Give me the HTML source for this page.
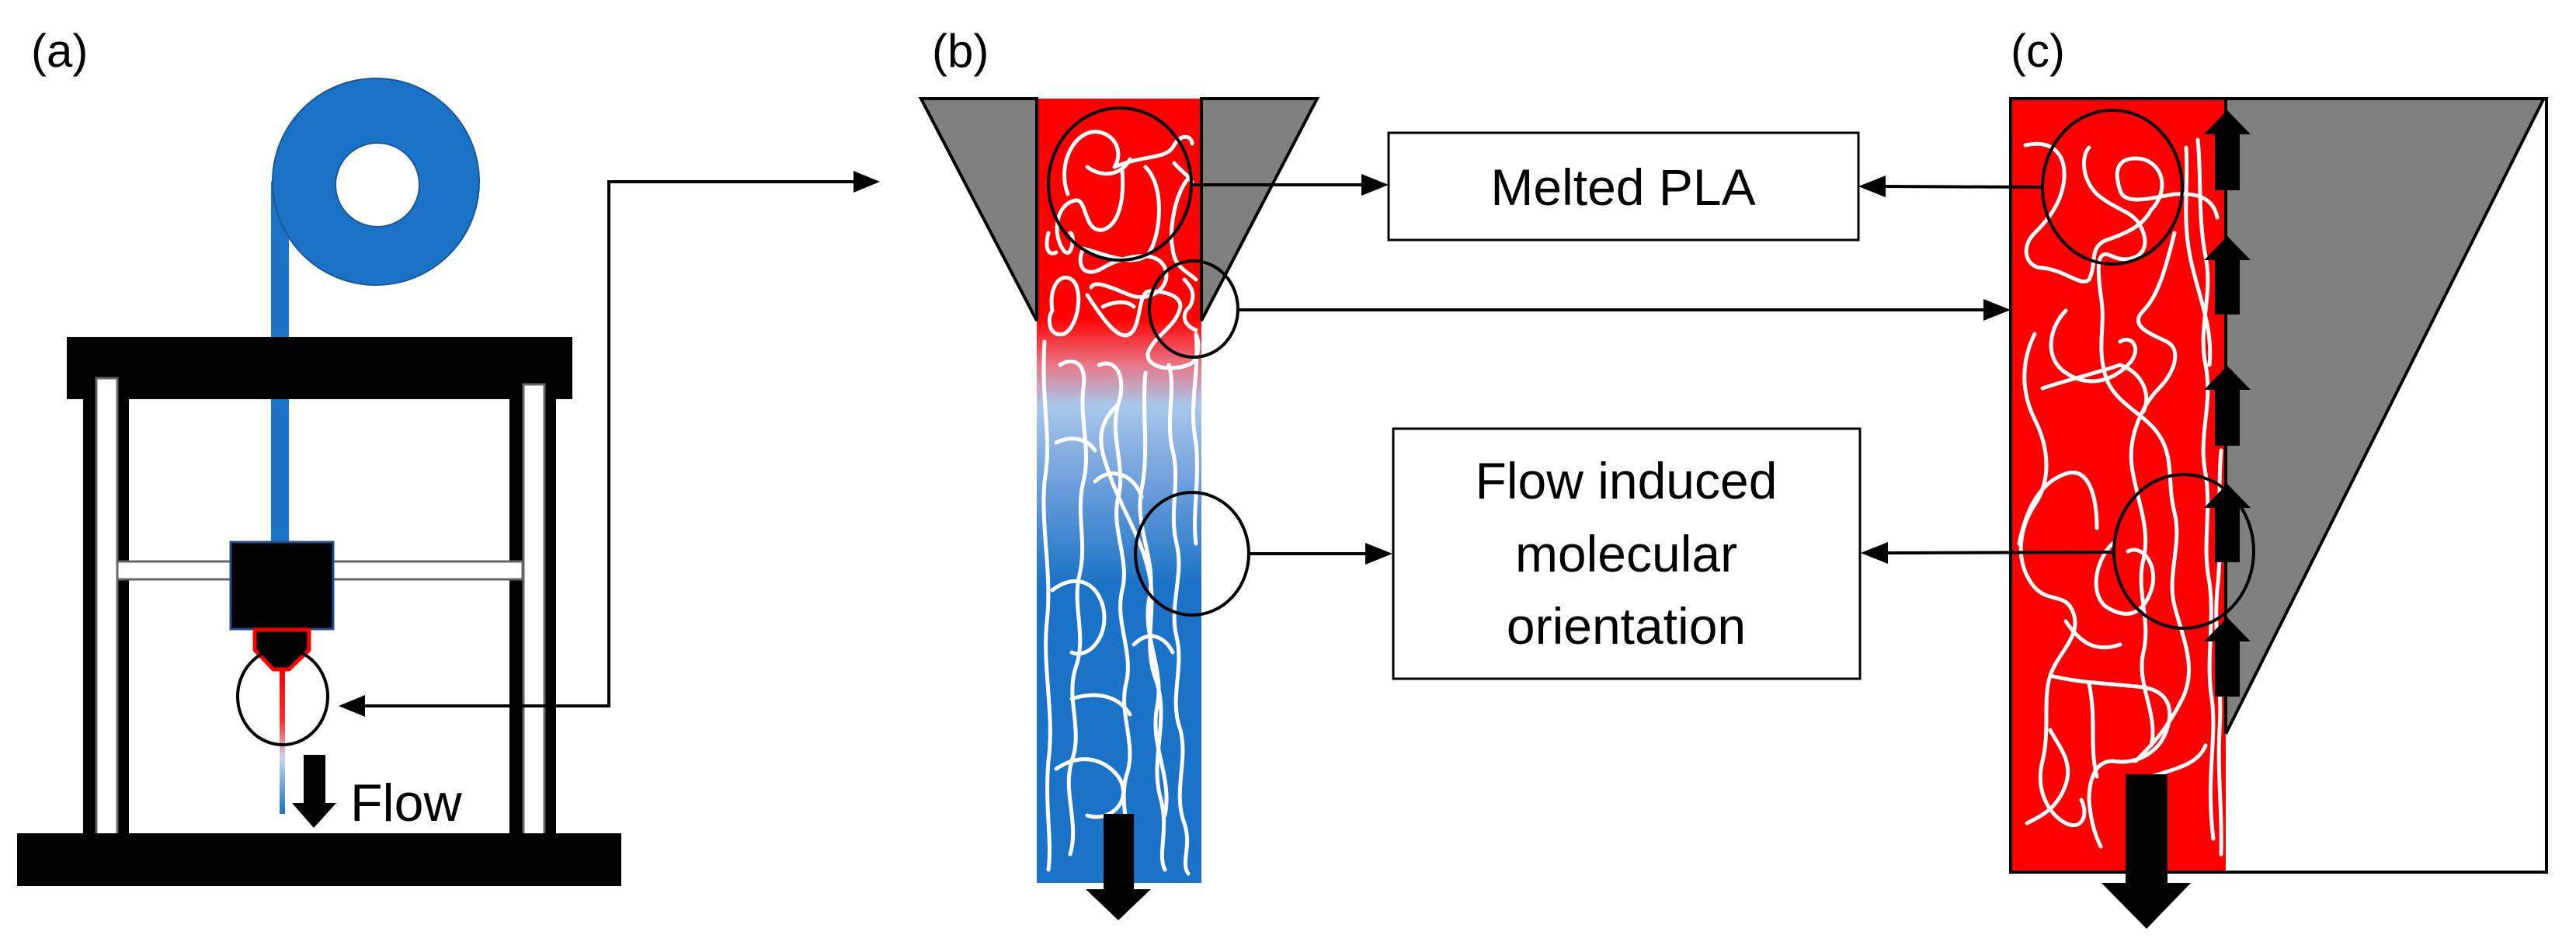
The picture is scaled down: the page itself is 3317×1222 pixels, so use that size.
<!DOCTYPE html>
<html><head><meta charset="utf-8"><style>
html,body{margin:0;padding:0;background:#fff;}
svg{display:block;}
text{font-family:"Liberation Sans",sans-serif;fill:#000;}
</style></head><body>
<svg width="3317" height="1222" viewBox="0 0 3317 1222" xmlns="http://www.w3.org/2000/svg">
<defs>
<linearGradient id="gb" x1="0" y1="127" x2="0" y2="1137" gradientUnits="userSpaceOnUse">
<stop offset="0" stop-color="#ff0000"/>
<stop offset="0.28" stop-color="#ff0000"/>
<stop offset="0.34" stop-color="#e8798a"/>
<stop offset="0.39" stop-color="#a9c7ea"/>
<stop offset="0.49" stop-color="#6f9fdc"/>
<stop offset="0.62" stop-color="#1a73c6"/>
<stop offset="1" stop-color="#1a73c6"/>
</linearGradient>
<linearGradient id="ge" x1="0" y1="865" x2="0" y2="1048" gradientUnits="userSpaceOnUse">
<stop offset="0" stop-color="#ff0000"/>
<stop offset="0.35" stop-color="#ff3030"/>
<stop offset="0.6" stop-color="#c9d6ef"/>
<stop offset="1" stop-color="#1a73c6"/>
</linearGradient>
</defs>

<!-- Panel a -->
<text x="40" y="86" font-size="60">(a)</text>
<rect x="349" y="234" width="23" height="470" fill="#1a73c6"/>
<circle cx="484" cy="234" r="133" fill="#1a73c6" stroke="#15589a" stroke-width="2"/>
<circle cx="486" cy="238" r="54" fill="#fff" stroke="#15589a" stroke-width="2"/>
<rect x="86" y="434" width="651" height="80" fill="#000"/>
<rect x="107" y="500" width="59" height="580" fill="#000"/>
<rect x="656" y="500" width="60" height="580" fill="#000"/>
<rect x="124" y="487" width="27" height="604" fill="#fff" stroke="#666" stroke-width="3"/>
<rect x="674" y="495" width="27" height="596" fill="#fff" stroke="#666" stroke-width="3"/>
<rect x="22" y="1073" width="778" height="68" fill="#000"/>
<rect x="151" y="723" width="522" height="23" fill="#fff" stroke="#666" stroke-width="3"/>
<rect x="349" y="514" width="23" height="185" fill="#1a73c6"/>
<rect x="297" y="698" width="132" height="112" fill="#000" stroke="#1f4e8c" stroke-width="3"/>
<polygon points="328,811 398,811 398,837 372,862 352,862 328,837" fill="#000" stroke="#ff0000" stroke-width="5"/>
<rect x="360" y="864" width="7" height="184" fill="url(#ge)"/>
<ellipse cx="364" cy="897" rx="58" ry="62" fill="none" stroke="#000" stroke-width="4"/>
<rect x="391" y="972" width="28" height="64" fill="#000"/>
<polygon points="376,1034 433,1034 404,1066" fill="#000"/>
<text x="451" y="1057" font-size="68">Flow</text>
<polyline points="468,909 784,909 784,234 1100,234" fill="none" stroke="#000" stroke-width="4"/>
<polygon points="436,909 470,895 470,923" fill="#000"/>
<polygon points="1133,234 1099,220 1099,248" fill="#000"/>

<!-- Panel b -->
<text x="1200" y="86" font-size="60">(b)</text>
<rect x="1335" y="127" width="212" height="1010" fill="url(#gb)"/>
<polygon points="1186,127 1335,127 1335,413" fill="#808080" stroke="#000" stroke-width="4"/>
<polygon points="1547,127 1696,127 1547,413" fill="#808080" stroke="#000" stroke-width="4"/>
<g fill="none" stroke="#fff" stroke-width="5" stroke-linecap="round" stroke-linejoin="round">
<path d="M1375,250 C1360,210 1385,165 1415,170 C1440,175 1445,200 1435,215 C1470,200 1500,205 1510,190 C1520,170 1535,175 1535,185"/>
<path d="M1400,215 C1420,230 1445,225 1455,205 M1445,220 C1448,260 1440,290 1420,296 C1395,300 1400,255 1385,258 C1360,262 1355,300 1368,320 C1380,340 1385,300 1378,300"/>
<path d="M1475,215 C1500,240 1495,300 1480,325 C1465,345 1430,330 1395,320 C1385,340 1395,360 1420,345 C1445,330 1490,320 1500,345 C1510,370 1480,390 1455,380 C1430,370 1410,360 1405,370"/>
<path d="M1530,230 C1512,250 1505,300 1510,320 C1512,345 1530,350 1540,360 M1512,210 C1520,220 1530,225 1535,235"/>
<path d="M1350,300 C1345,320 1350,330 1360,325 M1355,400 C1350,370 1365,350 1380,360 C1395,370 1390,420 1370,430 C1350,435 1348,410 1355,400"/>
<path d="M1400,380 C1420,410 1440,440 1455,430 C1470,420 1465,375 1480,375 C1500,375 1520,380 1520,395 C1515,420 1490,430 1480,450 C1470,470 1500,480 1530,470 C1545,465 1545,440 1540,430"/>
<path d="M1525,360 C1535,370 1540,380 1532,395 C1520,405 1525,420 1540,425 M1420,395 C1430,390 1450,385 1460,395"/>
<path d="M1345,440 C1340,520 1355,560 1345,620 C1340,680 1355,740 1348,800 C1342,860 1358,920 1350,980 C1345,1040 1355,1080 1350,1120"/>
<path d="M1365,470 C1380,460 1400,465 1395,500 C1390,540 1405,580 1395,620 C1385,660 1400,700 1390,740 C1380,780 1400,820 1385,860 C1372,900 1395,940 1380,980 C1368,1020 1390,1060 1378,1100"/>
<path d="M1415,470 C1440,460 1450,490 1440,520 C1428,560 1450,600 1440,640 C1430,680 1455,720 1445,760 C1435,800 1460,840 1450,880 C1440,920 1465,960 1450,1000 C1440,1040 1460,1080 1450,1110"/>
<path d="M1440,520 C1420,540 1410,560 1425,600 C1440,650 1470,690 1480,740 C1490,790 1470,830 1490,880 C1505,930 1480,980 1495,1030 C1505,1070 1490,1100 1500,1120"/>
<path d="M1475,480 C1470,530 1480,580 1470,630 C1460,680 1490,720 1480,770 C1470,820 1500,860 1490,910 C1480,960 1510,1000 1500,1050"/>
<path d="M1505,470 C1515,500 1500,540 1510,580 C1520,620 1505,660 1515,700 C1525,740 1505,780 1515,820 C1525,860 1505,900 1520,940 C1530,980 1510,1020 1525,1060 C1535,1090 1520,1110 1530,1125"/>
<path d="M1540,430 C1545,480 1530,520 1540,570 C1545,620 1535,660 1540,700"/>
<path d="M1355,760 C1380,740 1410,745 1420,780 C1430,820 1400,850 1380,840 M1360,990 C1390,970 1420,975 1440,1000 C1460,1030 1430,1060 1400,1050 M1380,900 C1410,890 1440,895 1455,920"/>
<path d="M1410,620 C1430,600 1460,610 1470,640 M1360,570 C1380,560 1400,565 1410,580 M1460,830 C1480,810 1500,820 1510,840"/>
</g>
<ellipse cx="1442" cy="237" rx="92" ry="98" fill="none" stroke="#000" stroke-width="4"/>
<ellipse cx="1537" cy="398" rx="57" ry="62" fill="none" stroke="#000" stroke-width="4"/>
<ellipse cx="1535" cy="713" rx="73" ry="79" fill="none" stroke="#000" stroke-width="4"/>
<rect x="1421" y="1048" width="39" height="100" fill="#000"/>
<polygon points="1398,1145 1482,1145 1440,1185" fill="#000"/>
<line x1="1534" y1="238" x2="1755" y2="238" stroke="#000" stroke-width="4"/>
<polygon points="1788,238 1753,224 1753,252" fill="#000"/>
<line x1="1594" y1="399" x2="2556" y2="399" stroke="#000" stroke-width="4"/>
<polygon points="2589,399 2554,385 2554,413" fill="#000"/>
<line x1="1608" y1="713" x2="1760" y2="713" stroke="#000" stroke-width="4"/>
<polygon points="1793,713 1758,699 1758,727" fill="#000"/>

<rect x="1788" y="171" width="605" height="138" fill="#fff" stroke="#000" stroke-width="3"/>
<text x="2090" y="264" font-size="66" text-anchor="middle">Melted PLA</text>
<rect x="1794" y="552" width="601" height="322" fill="#fff" stroke="#000" stroke-width="3"/>
<text x="2094" y="642" font-size="66" text-anchor="middle">Flow induced</text>
<text x="2094" y="736" font-size="66" text-anchor="middle">molecular</text>
<text x="2094" y="829" font-size="66" text-anchor="middle">orientation</text>

<!-- Panel c -->
<text x="2589" y="86" font-size="60">(c)</text>
<rect x="2589" y="127" width="690" height="996" fill="#fff" stroke="#000" stroke-width="4"/>
<rect x="2591" y="129" width="275" height="992" fill="#ff0000"/>
<polygon points="2866,129 3273,129 2866,943" fill="#808080"/>
<line x1="3275" y1="128" x2="2866" y2="945" stroke="#000" stroke-width="4"/>
<line x1="2866" y1="129" x2="2866" y2="945" stroke="#000" stroke-width="4"/>
<g fill="none" stroke="#fff" stroke-width="5" stroke-linecap="round" stroke-linejoin="round">
<path d="M2608,187 C2640,180 2660,195 2658,230 C2655,260 2640,280 2620,300 C2600,320 2610,345 2630,345 C2660,348 2680,370 2690,360 C2700,340 2690,320 2710,310 C2740,300 2760,290 2770,270 C2790,250 2790,215 2760,205 C2730,200 2720,215 2730,245 C2735,265 2770,255 2800,250 C2830,248 2850,255 2855,280"/>
<path d="M2690,190 C2680,200 2680,230 2700,250 C2730,275 2750,270 2760,300 C2770,330 2740,340 2720,330 C2700,320 2700,340 2705,380 C2712,420 2700,440 2710,480 C2720,520 2760,530 2780,560 C2800,590 2790,620 2800,660 C2810,700 2790,740 2800,780 C2810,820 2830,860 2810,900 C2790,940 2770,960 2750,980"/>
<path d="M2800,300 C2790,340 2780,380 2760,400 C2740,420 2770,430 2790,440 C2810,450 2800,480 2780,500 C2760,520 2740,560 2745,600 C2750,640 2770,680 2760,720 C2750,760 2770,800 2760,840 C2750,880 2780,920 2770,960"/>
<path d="M2830,180 C2835,230 2830,280 2840,330 C2850,380 2830,420 2840,470 C2850,520 2830,560 2840,610 C2848,660 2835,700 2845,750 C2852,800 2840,850 2848,900 C2855,950 2840,1000 2850,1080"/>
<path d="M2815,190 C2818,240 2810,280 2820,330 C2830,380 2850,420 2845,470 M2860,580 C2855,640 2862,700 2855,760 C2850,820 2862,880 2858,940 C2855,1000 2862,1050 2860,1100"/>
<path d="M2620,430 C2605,460 2600,500 2620,540 C2640,580 2640,620 2620,650 C2600,680 2595,720 2615,750 C2635,780 2660,760 2670,790 C2680,820 2650,840 2640,870 C2630,900 2640,940 2630,980 C2620,1020 2640,1050 2660,1060 C2680,1070 2690,1050 2680,1030"/>
<path d="M2660,400 C2640,420 2630,460 2660,480 C2690,500 2720,490 2740,470 C2760,450 2745,430 2730,440 M2630,500 C2660,490 2700,480 2730,470 C2760,480 2770,510 2760,530"/>
<path d="M2720,700 C2700,720 2690,760 2710,780 C2740,800 2760,790 2770,760 C2780,730 2760,700 2740,710 M2660,800 C2680,830 2700,840 2730,830 M2640,870 C2680,880 2720,880 2760,885 C2790,890 2800,910 2790,940 C2780,970 2750,985 2720,980 C2700,980 2690,1000 2690,1030 C2692,1060 2700,1080 2705,1090"/>
<path d="M2600,700 C2610,650 2630,620 2660,610 C2690,600 2700,640 2700,680 M2610,1060 C2630,1050 2650,1040 2660,1010 C2670,980 2650,960 2640,940"/>
<path d="M2770,1000 C2800,990 2830,985 2840,960 M2690,880 C2700,930 2690,960 2700,1000"/>
</g>
<ellipse cx="2720" cy="241" rx="90" ry="99" fill="none" stroke="#000" stroke-width="4"/>
<ellipse cx="2812" cy="710" rx="90" ry="99" fill="none" stroke="#000" stroke-width="4"/>
<g fill="#000">
<rect x="2852" y="170" width="32" height="75"/><polygon points="2838,173 2898,173 2868,142"/>
<rect x="2852" y="330" width="32" height="75"/><polygon points="2838,335 2898,335 2868,304"/>
<rect x="2852" y="500" width="32" height="74"/><polygon points="2838,502 2898,502 2868,471"/>
<rect x="2852" y="650" width="32" height="74"/><polygon points="2838,654 2898,654 2868,623"/>
<rect x="2852" y="822" width="32" height="75"/><polygon points="2838,826 2898,826 2868,795"/>
<rect x="2737" y="997" width="54" height="142"/><polygon points="2706,1137 2821,1137 2764,1196"/>
</g>
<line x1="2630" y1="241" x2="2426" y2="240" stroke="#000" stroke-width="4"/>
<polygon points="2393,240 2428,226 2428,254" fill="#000"/>
<line x1="2723" y1="711" x2="2429" y2="712" stroke="#000" stroke-width="4"/>
<polygon points="2396,712 2431,698 2431,726" fill="#000"/>
</svg>
</body></html>
